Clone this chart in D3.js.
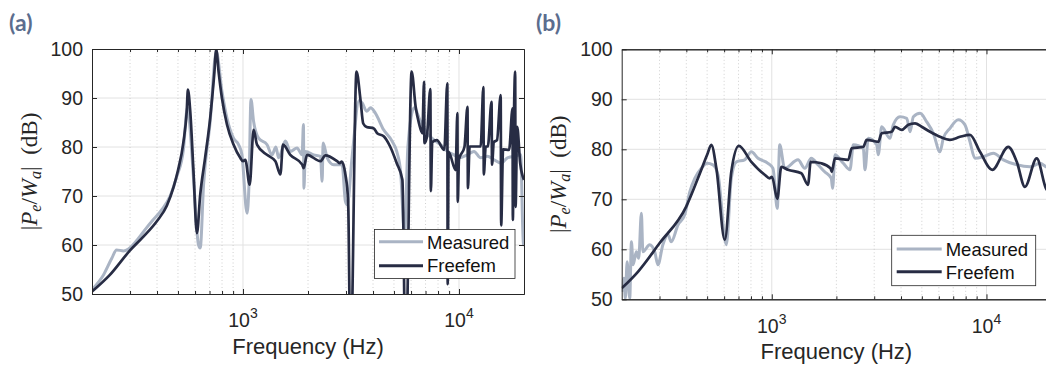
<!DOCTYPE html>
<html><head><meta charset="utf-8">
<script src="https://cdn.jsdelivr.net/npm/d3@7"></script>
<style>html,body{margin:0;padding:0;background:#fff;overflow:hidden}</style>
</head><body>
<svg id="c" width="1046" height="367"></svg>
<script>
// ---------------- DATA ----------------
const panelLabels = ["(a)", "(b)"];
const seriesNames = ["Measured", "Freefem"];
const yTicks = [50, 60, 70, 80, 90, 100];
const xMajor = [1000, 10000];
const xMajorLabels = [["10", "3"], ["10", "4"]];
const xMinor = [300, 400, 500, 600, 700, 800, 900, 2000, 3000, 4000, 5000, 6000, 7000, 8000, 9000];
const xDomain = [200, 20000];
const yDomain = [50, 100];

// panel (a) measured
const freqA_meas = [200,226,247,260,280,295,322,359,378,421,460,494,530,553,565,590,622,634,657,705,752,799,843,904,954,989,1044,1066,1089,1120,1181,1291,1362,1420,1463,1572,1656,1779,1878,1905,1915,1945,2126,2284,2325,2350,2454,2630,2877,2980,3040,3200,3450,3565,3735,3900,4100,4480,4900,5150,5366,5600,5800,6200,6640,7100,7630,8220,8840,9490,10000,10940,11740,12600,13530,14520,15620,16760,18000,19300,19870,20000];
const dbA_meas   = [50.9,53.9,57.3,59.0,58.8,59.2,60.9,63.6,64.8,67.2,70.0,74.0,79.5,88.0,85.2,73.7,60.1,59.4,72.3,85.2,99.5,91.4,85.9,81.8,80.5,78.4,66.5,72.3,89.7,85.2,81.8,80.5,78.4,80.0,77.8,81.2,79.1,79.8,78.4,84.6,71.6,79.1,78.4,78.1,73.0,80.8,77.8,76.4,76.4,68.9,68.2,78.0,89.5,89.0,87.3,88.0,86.9,83.5,81.2,79.1,75.0,62.0,80.0,88.0,85.2,82.9,81.5,80.5,79.1,78.4,77.8,78.4,79.1,77.8,78.1,77.4,76.7,77.8,78.1,78.4,60.1,60.0];

// panel (a) Freefem
const freqA_fem = [200,242,300,346,400,444,477,500,530,549,556,570,590,612,634,668,705,736,752,771,799,843,904,971,1000,1025,1074,1120,1161,1291,1413,1490,1532,1656,1880,1910,1980,2284,2408,2729,2806,2865,2980,3068,3147,3354,3500,3603,3735,4035,4180,4480,4800,5150,5470,5662,6036,6300,6530,6770,6890,6920,7100,7370,7410,7520,7900,8550,8830,8870,8950,9650,9830,9870,10000,10600,10950,11000,11200,12600,12970,13030,13300,13600,14150,14220,14500,15000,15600,15680,16000,17060,17700,17760,17900,18200,18280,18600,19200,20000];
const dbA_fem   = [50.5,53.9,58.9,61.7,64.9,68.0,71.8,75.2,81.0,87.3,91.7,87.3,75.0,62.4,70.3,77.8,85.9,94.8,99.9,95.4,90.0,84.6,80.5,77.8,77.1,77.4,72.3,83.5,80.5,78.4,77.1,74.4,80.5,78.4,76.4,75.7,78.4,77.1,78.3,77.1,76.7,77.0,74.4,68.9,35.0,95.4,89.6,84.8,84.1,83.8,82.8,82.2,80.1,76.7,73.3,35.0,95.4,88.2,84.8,82.8,93.3,80.8,82.0,91.8,71.0,81.0,81.4,79.4,93.0,52.0,79.0,75.3,86.9,68.8,77.5,80.0,88.2,71.6,80.1,80.1,92.2,74.4,80.1,80.1,89.2,76.4,81.0,81.4,90.6,64.0,79.5,79.4,87.9,65.1,80.0,95.4,67.8,84.1,76.7,73.3];

// panel (b) measured
const freqB_meas = [200,205,208,212,218,222,226,234,240,247,251,270,285,295,311,329,340,366,393,415,438,470,500,532,562,614,648,684,748,803,863,960,1013,1061,1089,1148,1325,1424,1528,1642,1764,1893,1920,1970,2154,2314,2398,2670,2717,2816,3080,3134,3250,3555,3681,3958,4252,4406,4566,4904,5268,5658,6075,6296,6760,7392,7940,8380,8840,9660,10760,11980,13840,15950,17750,18920,20000];
const dbB_meas   = [51.5,54.2,50.2,57.5,50.2,61.5,56.9,59.5,58.2,67.2,59.5,60.9,59.5,56.9,60.9,62.9,61.5,64.9,66.9,71.5,74.2,76.2,77.2,76.9,74.9,60.9,74.2,77.5,77.9,79.5,78.2,77.2,76.2,68.2,80.9,76.2,77.9,76.2,78.2,76.9,75.5,74.2,72.2,78.9,77.2,75.9,80.9,80.2,75.9,82.2,80.9,78.9,84.5,82.2,84.9,86.5,86.2,83.5,86.5,87.2,85.5,83.2,79.5,82.2,84.2,85.9,84.9,81.5,78.2,78.5,79.2,77.9,76.9,76.5,77.2,76.5,76.0];

// panel (b) Freefem
const freqB_fem = [200,238,300,400,453,500,523,552,604,648,702,803,927,978,1002,1061,1108,1190,1373,1475,1518,1702,1878,1902,1970,2272,2356,2670,2767,3134,3250,3618,3751,4028,4325,4647,4990,5460,6075,6760,7530,8380,9330,10640,12640,13840,15100,17140,18920,20000];
const dbB_fem   = [52.2,55.5,61.2,68.6,74.2,78.9,80.9,76.2,61.9,75.5,80.7,77.5,74.9,74.2,74.5,70.1,76.5,75.9,75.2,72.9,77.5,77.2,76.2,75.5,78.2,77.9,80.2,80.5,81.9,81.5,83.2,83.5,84.5,83.9,84.9,85.2,84.5,83.5,82.5,81.9,82.5,82.9,79.5,75.9,80.5,77.5,72.5,78.2,72.2,71.0];

// ---------------- LAYOUT ----------------
const COL_MEAS = "#aab4c4", COL_FEM = "#272c44", AX = "#262626";
const SANS = "'Liberation Sans', Arial, Helvetica, sans-serif";
const SERIF = "'Liberation Serif', 'DejaVu Serif', serif";

const panels = [
  { left: 92, top: 49, w: 432, h: 245, lab: [9, 31],
    meas: [freqA_meas, dbA_meas], fem: [freqA_fem, dbA_fem],
    leg: { x: 374.5, y: 229.5, w: 140.5, h: 49, lx0: 379, lx1: 423, ly: [241.7, 265.7], tx: 427, ty: [249, 272] },
    xlabY: 354, ylabX: 37, xtY: 327 },
  { left: 621.7, top: 49.3, w: 429.4, h: 250, lab: [536, 31],
    meas: [freqB_meas, dbB_meas], fem: [freqB_fem, dbB_fem],
    leg: { x: 891.7, y: 235.3, w: 144, h: 50.4, lx0: 896.7, lx1: 941.7, ly: [249, 271.7], tx: 945.7, ty: [256, 279] },
    xlabY: 358.5, ylabX: 566, xtY: 332.5 }
];

const svg = d3.select("#c");
const defs = svg.append("defs");

panels.forEach((p, i) => {
  const x = d3.scaleLog().domain(xDomain).range([p.left, p.left + p.w]);
  const y = d3.scaleLinear().domain(yDomain).range([p.top + p.h, p.top]);
  const g = svg.append("g");

  defs.append("clipPath").attr("id", "clip" + i).append("rect")
    .attr("x", p.left).attr("y", p.top).attr("width", p.w).attr("height", p.h);

  // grid
  const grid = g.append("g");
  grid.selectAll(".gy").data(yTicks.slice(1, -1)).join("line")
    .attr("x1", p.left).attr("x2", p.left + p.w).attr("y1", d => y(d)).attr("y2", d => y(d))
    .attr("stroke", "#e2e2e2").attr("stroke-width", 1);
  grid.selectAll(".gm").data(xMinor).join("line")
    .attr("x1", d => x(d)).attr("x2", d => x(d)).attr("y1", p.top).attr("y2", p.top + p.h)
    .attr("stroke", "#c4c4c4").attr("stroke-width", 0.8).attr("stroke-dasharray", "1,2.5");
  grid.selectAll(".gx").data(xMajor).join("line")
    .attr("x1", d => x(d)).attr("x2", d => x(d)).attr("y1", p.top).attr("y2", p.top + p.h)
    .attr("stroke", "#e2e2e2").attr("stroke-width", 1);

  // data
  const line = d3.line().x(d => x(d[0])).y(d => y(d[1])).curve(d3.curveMonotoneX);
  const dg = g.append("g").attr("clip-path", `url(#clip${i})`);
  const measPts = p.meas[0].map((f, k) => [f, p.meas[1][k]]);
  const femPts = p.fem[0].map((f, k) => [f, p.fem[1][k]]);
  dg.append("path").attr("d", line(measPts)).attr("fill", "none")
    .attr("stroke", COL_MEAS).attr("stroke-width", 3).attr("stroke-linejoin", "round");
  dg.append("path").attr("d", line(femPts)).attr("fill", "none")
    .attr("stroke", COL_FEM).attr("stroke-width", 2.7).attr("stroke-linejoin", "round");

  // axes
  const styleAxis = sel => {
    sel.attr("color", AX);
    sel.select(".domain").attr("stroke-width", 1);
    sel.selectAll(".tick line").attr("stroke-width", 1);
    sel.selectAll("text").style("font-family", SANS).style("font-size", "19.5px").attr("fill", AX);
  };
  g.append("g").attr("transform", `translate(${p.left},0)`)
    .call(d3.axisLeft(y).tickValues(yTicks).tickSizeInner(-5).tickSizeOuter(0).tickPadding(9).tickFormat(d3.format("d")))
    .call(styleAxis);
  g.append("g").attr("transform", `translate(${p.left + p.w},0)`)
    .call(d3.axisRight(y).tickValues(yTicks).tickSizeInner(-5).tickSizeOuter(0).tickFormat(""))
    .call(styleAxis);
  g.append("g").attr("transform", `translate(0,${p.top + p.h})`)
    .call(d3.axisBottom(x).tickValues(xMajor).tickSizeInner(-5).tickSizeOuter(0).tickFormat(""))
    .call(styleAxis);
  g.append("g").attr("transform", `translate(0,${p.top + p.h})`)
    .call(d3.axisBottom(x).tickValues(xMinor).tickSizeInner(-3).tickSizeOuter(0).tickFormat(""))
    .call(styleAxis);
  g.append("g").attr("transform", `translate(0,${p.top})`)
    .call(d3.axisTop(x).tickValues(xMajor).tickSizeInner(-5).tickSizeOuter(0).tickFormat(""))
    .call(styleAxis);
  g.append("g").attr("transform", `translate(0,${p.top})`)
    .call(d3.axisTop(x).tickValues(xMinor).tickSizeInner(-3).tickSizeOuter(0).tickFormat(""))
    .call(styleAxis);

  // x tick labels with superscripts
  xMajor.forEach((t, k) => {
    const tx = g.append("text").attr("x", x(t)).attr("y", p.xtY)
      .attr("text-anchor", "middle").attr("fill", AX)
      .style("font-family", SANS).style("font-size", "19.5px");
    tx.append("tspan").text(xMajorLabels[k][0]);
    tx.append("tspan").attr("dy", -9).style("font-size", "14px").text(xMajorLabels[k][1]);
  });

  // x label
  g.append("text").attr("x", p.left + p.w / 2).attr("y", p.xlabY).attr("text-anchor", "middle")
    .attr("fill", AX).style("font-family", SANS).style("font-size", "22px").text("Frequency (Hz)");

  // y label
  const cy = p.top + p.h / 2;
  const yl = g.append("text").attr("transform", `translate(${p.ylabX},${cy}) rotate(-90)`)
    .attr("text-anchor", "middle").attr("fill", AX)
    .style("font-family", SERIF).style("font-size", "23px");
  yl.append("tspan").text("|");
  yl.append("tspan").style("font-style", "italic").text("P");
  yl.append("tspan").style("font-style", "italic").style("font-size", "16px").attr("dy", 4).text("e");
  yl.append("tspan").attr("dy", -4).text("/");
  yl.append("tspan").style("font-style", "italic").text("W");
  yl.append("tspan").style("font-style", "italic").style("font-size", "16px").attr("dy", 4).text("a");
  yl.append("tspan").attr("dy", -4).text("|\u2002(dB)");

  // panel label
  svg.append("text").attr("x", p.lab[0]).attr("y", p.lab[1]).attr("fill", "#5b6d8e")
    .style("font-family", "Lato, 'Open Sans', sans-serif").style("font-weight", "bold")
    .style("font-size", "23px").text(panelLabels[i]);

  // legend
  const L = p.leg;
  const lg = g.append("g");
  lg.append("rect").attr("x", L.x).attr("y", L.y).attr("width", L.w).attr("height", L.h)
    .attr("fill", "#fff").attr("stroke", AX).attr("stroke-width", 0.8);
  [COL_MEAS, COL_FEM].forEach((c, k) => {
    lg.append("line").attr("x1", L.lx0).attr("x2", L.lx1).attr("y1", L.ly[k]).attr("y2", L.ly[k])
      .attr("stroke", c).attr("stroke-width", 3);
    lg.append("text").attr("x", L.tx).attr("y", L.ty[k]).attr("fill", "#111")
      .style("font-family", SANS).style("font-size", "18.5px").text(seriesNames[k]);
  });
});
</script>
</body></html>
